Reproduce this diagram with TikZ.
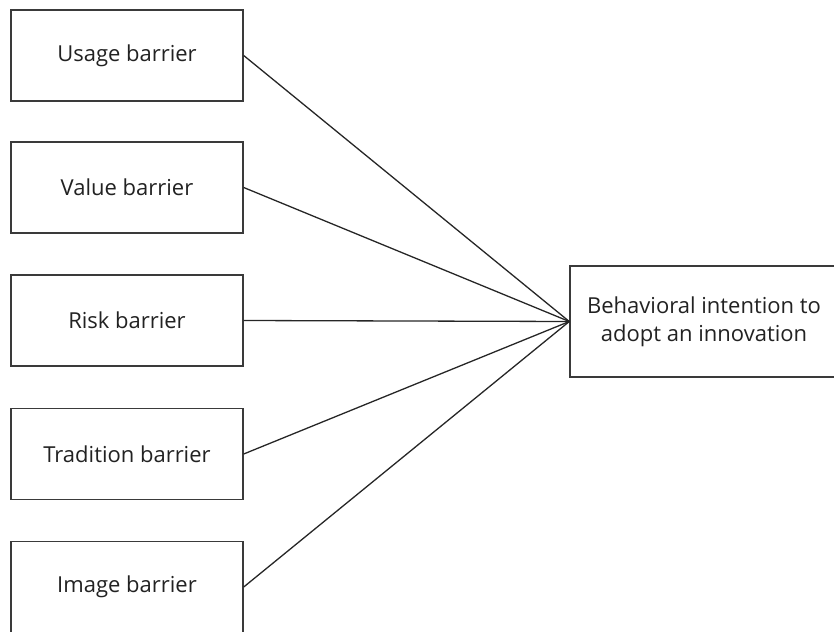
\documentclass[tikz,border=0pt]{standalone}
\usepackage{fontspec}
\setmainfont{Open Sans}
\usepackage{tikz}
\usetikzlibrary{positioning}
\definecolor{cline}{HTML}{3A3A3A}
\definecolor{ctext}{HTML}{222222}
\tikzset{
  box/.style={draw=cline, line width=1.4pt, fill=white, align=center, inner sep=0pt,
    font=\fontsize{22}{28}\selectfont, text=ctext},
  barrier/.style={box, minimum width=232pt, minimum height=91pt},
  target/.style={box, minimum width=268pt, minimum height=111pt},
  link/.style={draw=black!85, line width=1.3pt},
}
\begin{document}
\begin{tikzpicture}[x=1pt,y=-1pt]
\useasboundingbox (0,0) rectangle (834,631);
\clip (0,0) rectangle (834,631);
% ---------------- barriers
\node[barrier] (usage) at (127,55.5) {Usage barrier};
\node[barrier] (value) at (127,187.5) {Value barrier};
\node[barrier] (risk) at (127,320.5) {Risk barrier};
\node[barrier] (tradition) at (127,454) {Tradition barrier};
\node[barrier] (image) at (127,587) {Image barrier};
% ---------------- outcome
\node[target] (intent) at (704,321.5) {Behavioral intention to\\adopt an innovation};
% ---------------- links
\foreach \u in {usage,value,risk,tradition,image} \draw[link] (\u.east) -- (intent.west);
\end{tikzpicture}
\end{document}
